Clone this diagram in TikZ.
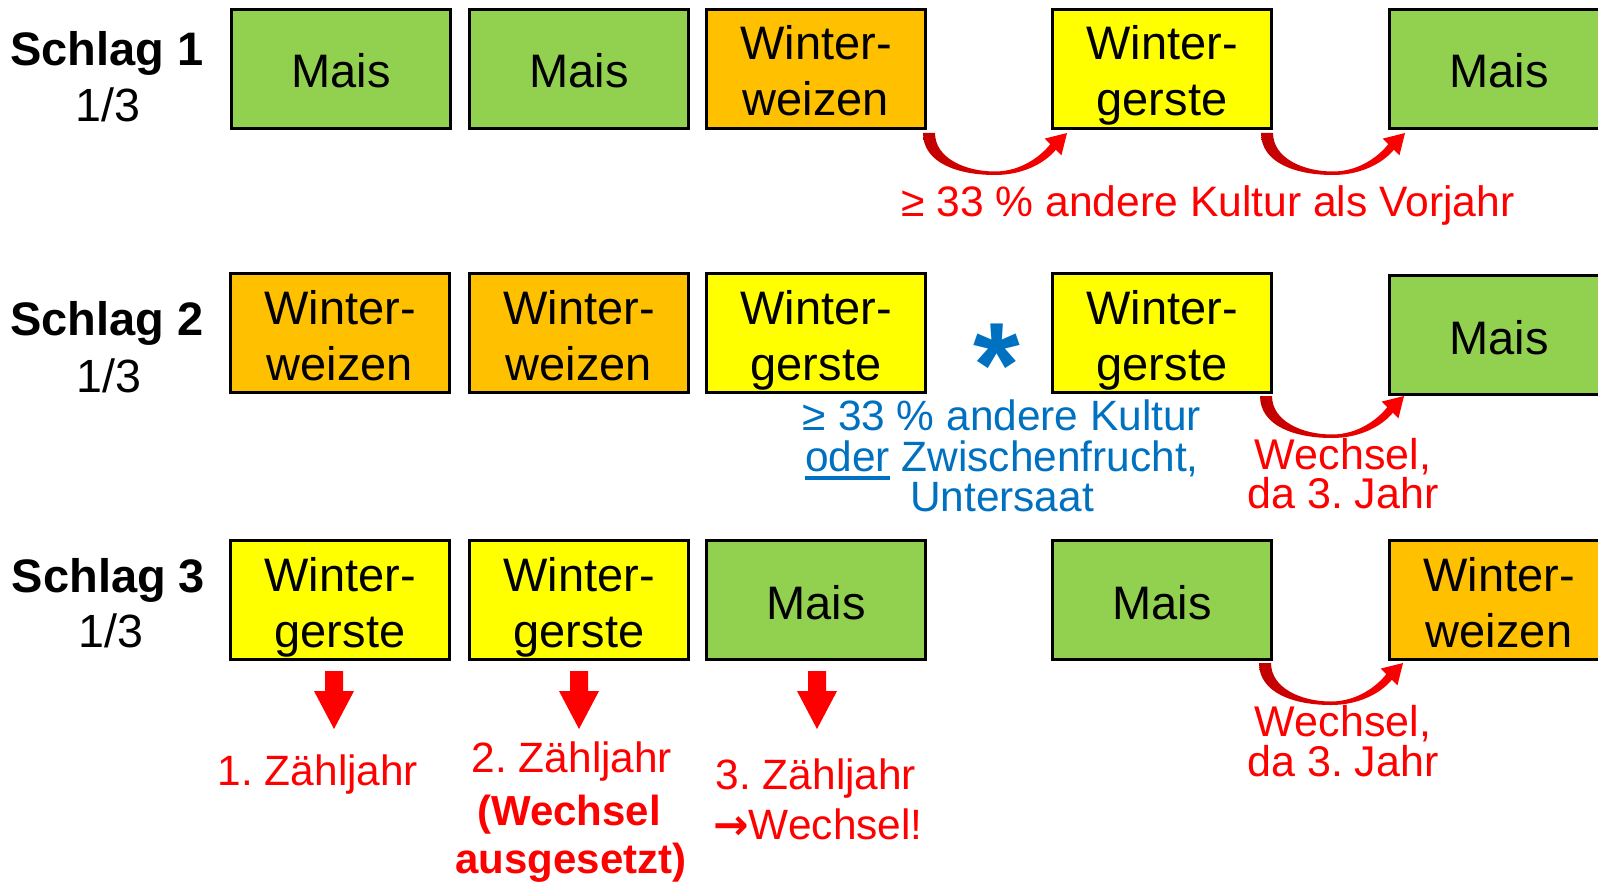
\documentclass[tikz,border=0pt]{standalone}
\usepackage{fontspec}
\setmainfont{Liberation Sans}
\newfontfamily\arrfont{DejaVu Sans}
\usetikzlibrary{calc}
\definecolor{cgreen}{HTML}{92D050}
\definecolor{corange}{HTML}{FFC000}
\definecolor{cyellow}{HTML}{FFFF00}
\definecolor{cred}{HTML}{FF0000}
\definecolor{cdred}{HTML}{C00000}
\definecolor{cblue}{HTML}{0070C0}
\frenchspacing
\newcommand{\ulthick}[1]{\setbox0=\hbox{#1}\rlap{\rule[-4.4pt]{\wd0}{1.8pt}}\box0\relax}
\newcommand{\onel}[2]{\node[ctext] (#1t) at ($(#1.center)+(0,19)$) {#2};}
\newcommand{\twol}[3]{\node[ctext] (#1a) at ($(#1.center)+(0,-9)$) {#2};
  \node[ctext] (#1b) at ($(#1.center)+(0,47)$) {#3};}
\newcommand{\crvarrow}[1]{\shade[curvearrow,shift={(#1)}] (0,0) .. controls (0,30) and (35,42) .. (72,42)
  .. controls (100,42) and (122,30) .. (132.8,16.8) -- (138.4,22.4) -- (144,0) -- (121.6,5.6) -- (127.2,11.2)
  .. controls (118,23) and (98,38.5) .. (72,38.5) .. controls (42,38.5) and (12,25) .. (12,0) -- cycle;}
\newcommand{\blkarrow}[1]{\fill[blockarrow,shift={(#1)}] (-9,0) -- (9,0) -- (9,20) -- (20,20) -- (0,58) -- (-20,20) -- (-9,20) -- cycle;}
\begin{document}
\begin{tikzpicture}[x=0.5pt,y=-0.5pt,
  crop/.style={draw=black,line width=1.1pt,minimum width=109.5pt,minimum height=59.5pt,inner sep=0pt,outer sep=0pt},
  ctext/.style={anchor=base,inner sep=0pt,font=\fontsize{23.5}{28}\selectfont},
  rowlab/.style={anchor=base,inner sep=0pt,font=\fontsize{23.5}{28}\selectfont\bfseries},
  rowfrac/.style={anchor=base,inner sep=0pt,font=\fontsize{23.3}{28}\selectfont},
  redtxt/.style={anchor=base,inner sep=0pt,text=cred,font=\fontsize{21.5}{25}\selectfont},
  bluetxt/.style={anchor=base,inner sep=0pt,text=cblue,font=\fontsize{21.2}{25}\selectfont},
  cntxt/.style={anchor=base,inner sep=0pt,text=cred,font=\fontsize{21.2}{25}\selectfont},
  cntbold/.style={cntxt,font=\fontsize{21}{25}\selectfont\bfseries},
  blockarrow/.style={fill=cred,draw=none},
  curvearrow/.style={left color=cdred,right color=cred,draw=none}
]
\useasboundingbox (0,0) rectangle (1598,882);
\clip (0,0) rectangle (1598,882);
\fill[white] (0,0) rectangle (1598,882);

% row labels
\node[rowlab] (s1) at (107,66) {Schlag 1};
\node[rowfrac] (f1) at (108,122) {1/3};
\node[rowlab] (s2) at (107,335) {Schlag 2};
\node[rowfrac] (f2) at (109,392) {1/3};
\node[rowlab] (s3) at (108.5,592) {Schlag 3};
\node[rowfrac] (f3) at (111,647) {1/3};

% row 1
\node[crop,fill=cgreen]  (r1c1) at (341,69) {};
\node[crop,fill=cgreen]  (r1c2) at (579,69) {};
\node[crop,fill=corange] (r1c3) at (816,69) {};
\node[crop,fill=cyellow] (r1c4) at (1162,69) {};
\node[crop,fill=cgreen]  (r1c5) at (1499,69) {};
\onel{r1c1}{Mais}
\onel{r1c2}{Mais}
\twol{r1c3}{Winter-}{weizen}
\twol{r1c4}{Winter-}{gerste}
\onel{r1c5}{Mais}

% row 2
\node[crop,fill=corange] (r2c1) at (340,333) {};
\node[crop,fill=corange] (r2c2) at (579,333) {};
\node[crop,fill=cyellow] (r2c3) at (816,333) {};
\node[crop,fill=cyellow] (r2c4) at (1162,333) {};
\node[crop,fill=cgreen]  (r2c5) at (1499,335) {};
\twol{r2c1}{Winter-}{weizen}
\twol{r2c2}{Winter-}{weizen}
\twol{r2c3}{Winter-}{gerste}
\twol{r2c4}{Winter-}{gerste}
\onel{r2c5}{Mais}

% row 3
\node[crop,fill=cyellow] (r3c1) at (340,600) {};
\node[crop,fill=cyellow] (r3c2) at (579,600) {};
\node[crop,fill=cgreen]  (r3c3) at (816,600) {};
\node[crop,fill=cgreen]  (r3c4) at (1162,600) {};
\node[crop,fill=corange] (r3c5) at (1499,600) {};
\twol{r3c1}{Winter-}{gerste}
\twol{r3c2}{Winter-}{gerste}
\onel{r3c3}{Mais}
\onel{r3c4}{Mais}
\twol{r3c5}{Winter-}{weizen}

% curved arrows
\coordinate (ca1) at (923,133);
\coordinate (ca2) at (1261,133);
\coordinate (ca3) at (1260,396);
\coordinate (ca4) at (1259,663);
\crvarrow{ca1}
\crvarrow{ca2}
\crvarrow{ca3}
\crvarrow{ca4}

% annotations
\node[redtxt,font=\fontsize{21.3}{25}\selectfont] (t1) at (1208,216) {≥ 33 \% andere Kultur als Vorjahr};
\node[anchor=base,inner sep=0pt,text=cblue,font=\fontsize{60}{60}\selectfont\bfseries] (star) at (997,406) {\smash{*}};
\node[bluetxt] (b1) at (1002,430) {≥ 33 \% andere Kultur};
\node[bluetxt] (b2) at (1002,471) {\ulthick{oder} Zwischenfrucht,};
\node[bluetxt] (b3) at (1002,511) {Untersaat};
\node[redtxt] (w2a) at (1343,469) {Wechsel,};
\node[redtxt] (w2b) at (1343,508) {da 3. Jahr};
\node[redtxt] (w3a) at (1343,736) {Wechsel,};
\node[redtxt] (w3b) at (1343,776) {da 3. Jahr};

% block arrows
\coordinate (ba1) at (334,671);
\coordinate (ba2) at (579,671);
\coordinate (ba3) at (817,671);
\blkarrow{ba1}
\blkarrow{ba2}
\blkarrow{ba3}

\node[cntxt] (z1) at (318,785) {1. Zähljahr};
\node[cntxt] (z2) at (572,772) {2. Zähljahr};
\node[cntbold] (z2b) at (569,825) {(Wechsel};
\node[cntbold] (z2c) at (571,873) {ausgesetzt)};
\node[cntxt] (z3) at (816,789) {3. Zähljahr};
\node[cntxt] (z3b) at (818,839) {{\arrfont\bfseries →}Wechsel!};
\end{tikzpicture}
\end{document}
